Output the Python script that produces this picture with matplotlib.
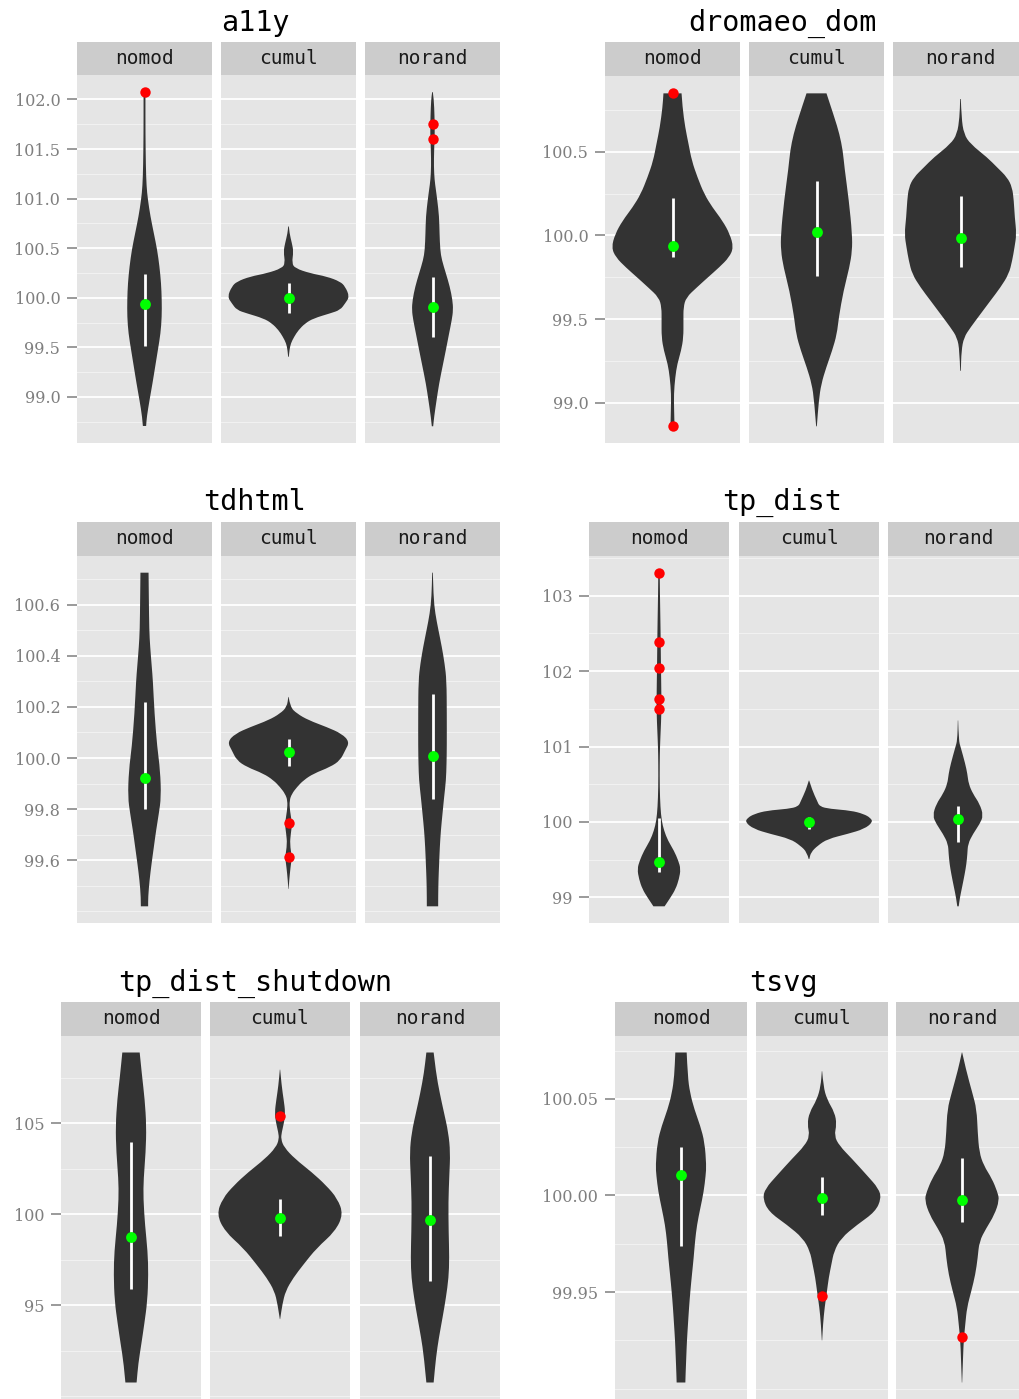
import matplotlib
matplotlib.use('Agg')
from matplotlib import pyplot as plt
from matplotlib.path import Path
from matplotlib.patches import PathPatch
from matplotlib.ticker import MultipleLocator, FixedLocator, FormatStrFormatter

facets = ['nomod', 'cumul', 'norand']

# violin outlines: y values and half width (% of facet width)
a11y_nomod_y = [102.067, 102.0, 101.663, 101.326, 101.124, 100.989, 100.820, 100.652, 100.483, 100.315,
                100.146, 99.978, 99.809, 99.641, 99.472, 99.304, 99.135, 98.967, 98.798, 98.707]
a11y_nomod_w = [0.7, 0.7, 0.7, 1.0, 1.5, 2.5, 4.4, 6.9, 9.4, 11.1, 12.3, 12.8, 12.8, 11.9, 9.9, 7.9, 5.9, 3.7, 1.7, 1.2]
a11y_cumul_y = [100.719, 100.652, 100.551, 100.467, 100.349, 100.298, 100.247, 100.214, 100.163, 100.113, 100.011,
                99.944, 99.877, 99.843, 99.792, 99.742, 99.674, 99.607, 99.540, 99.472, 99.405]
a11y_cumul_w = [0.25, 0.7, 2.5, 3.7, 2.5, 4.9, 16, 28.4, 38.3, 42, 45.2, 42, 38.3, 30.9, 18.5, 12.3, 7.4, 4.2, 1.7, 0.7, 0.25]
a11y_norand_y = [102.074, 102.0, 101.831, 101.663, 101.494, 101.326, 101.191, 101.090, 100.989, 100.820, 100.652,
                 100.483, 100.382, 100.247, 100.113, 99.978, 99.877, 99.776, 99.641, 99.472, 99.304, 99.135,
                 98.967, 98.798, 98.704]
a11y_norand_w = [0.25, 1.0, 1.5, 1.7, 1.2, 1.0, 1.5, 2.5, 3.5, 4.9, 5.2, 5.7, 6.9, 9.9, 12.8, 14.8, 15.3, 14.3,
                 12.3, 9.9, 7.4, 4.9, 3.0, 1.2, 0.5]
a11y_ticks = [99.0, 99.5, 100.0, 100.5, 101.0, 101.5, 102.0]
a11y_iqr = [(99.513, 100.237), (99.850, 100.146), (99.600, 100.214)]
a11y_med = [99.934, 100.001, 99.907]
a11y_out = [[102.078], [], [101.754, 101.599]]

dromaeo_nomod_y = [100.849, 100.765, 100.645, 100.546, 100.446, 100.347, 100.247, 100.167, 100.088, 100.008,
                   99.928, 99.869, 99.809, 99.749, 99.689, 99.629, 99.570, 99.490, 99.390, 99.311, 99.231,
                   99.151, 99.052, 98.952, 98.859]
dromaeo_nomod_w = [6.7, 7.4, 9.4, 11.9, 14.3, 18.5, 23.5, 29.6, 37, 42.5, 45.2, 42, 34.6, 26.2, 18, 10.1, 8.1,
                   8.1, 8.1, 6.4, 3.5, 2.0, 1.0, 1.2, 1.5]
dromaeo_cumul_y = [100.849, 100.705, 100.606, 100.506, 100.406, 100.207, 100.008, 99.908, 99.809, 99.669,
                   99.510, 99.410, 99.311, 99.211, 99.112, 99.012, 98.859]
dromaeo_cumul_w = [7.4, 13.3, 17.0, 19.5, 20.7, 24.0, 26.4, 26.4, 24.4, 20.0, 16.5, 15.1, 11.6, 7.2, 3.5, 1.7, 0.25]
dromaeo_norand_y = [100.815, 100.705, 100.606, 100.546, 100.466, 100.406, 100.347, 100.287, 100.207, 100.108,
                    100.008, 99.928, 99.849, 99.769, 99.689, 99.610, 99.530, 99.450, 99.390, 99.311, 99.191]
dromaeo_norand_w = [0.25, 0.7, 2.5, 7.4, 19.8, 27.2, 34.6, 38.3, 39.5, 40.2, 41.5, 40, 38.3, 35.8, 29.6, 22.2,
                    14.8, 7.4, 2.5, 0.7, 0.25]
dromaeo_ticks = [99.0, 99.5, 100.0, 100.5]
dromaeo_iqr = [(99.873, 100.221), (99.757, 100.325), (99.809, 100.233)]
dromaeo_med = [99.934, 100.022, 99.982]
dromaeo_out = [[100.853, 98.859], [], []]

tdhtml_nomod_y = [100.725, 100.631, 100.500, 100.435, 100.356, 100.304, 100.174, 100.043, 99.952, 99.847,
                  99.782, 99.717, 99.651, 99.586, 99.521, 99.456, 99.420]
tdhtml_nomod_w = [3.0, 3.2, 3.5, 4.2, 5.4, 6.2, 7.4, 9.4, 11.6, 12.3, 10.6, 8.6, 6.9, 5.2, 3.7, 2.7, 2.7]
tdhtml_cumul_y = [100.239, 100.200, 100.174, 100.148, 100.121, 100.095, 100.063, 100.030, 99.991, 99.965,
                  99.939, 99.913, 99.886, 99.860, 99.834, 99.795, 99.743, 99.704, 99.664, 99.612, 99.573,
                  99.521, 99.488]
tdhtml_cumul_w = [0.12, 1.2, 6.2, 14.8, 28.4, 39.5, 45.2, 42, 38.3, 30.9, 18.5, 11.1, 6.2, 2.5, 0.7, 1.0, 2.7,
                  1.7, 1.0, 2.5, 1.5, 0.5, 0.12]
tdhtml_norand_y = [100.725, 100.631, 100.566, 100.500, 100.435, 100.369, 100.304, 100.174, 100.043, 99.978,
                   99.913, 99.847, 99.782, 99.717, 99.651, 99.586, 99.521, 99.456, 99.420]
tdhtml_norand_w = [0.25, 0.7, 2.0, 4.4, 6.9, 9.0, 10.4, 10.6, 10.6, 10.4, 10.0, 8.6, 7.4, 6.2, 5.4, 4.9, 4.4, 4.2, 4.2]
tdhtml_ticks = [99.6, 99.8, 100.0, 100.2, 100.4, 100.6]
tdhtml_iqr = [(99.800, 100.218), (99.969, 100.076), (99.841, 100.249)]
tdhtml_med = [99.922, 100.023, 100.007]
tdhtml_out = [[], [99.747, 99.612], []]

tpdist_nomod_y = [103.301, 102.982, 102.673, 102.407, 102.053, 101.699, 101.434, 101.212, 100.991, 100.770,
                  100.460, 100.195, 100.018, 99.885, 99.752, 99.619, 99.487, 99.376, 99.243, 99.111, 99.000, 98.881]
tpdist_nomod_w = [0.5, 0.7, 1.0, 1.2, 1.4, 1.7, 1.7, 1.2, 0.7, 0.5, 0.5, 1.0, 1.9, 3.6, 6.4, 10.7, 13.8, 15.5,
                  14.3, 11.9, 8.3, 4.0]
tpdist_cumul_y = [100.549, 100.416, 100.283, 100.204, 100.173, 100.150, 100.106, 100.053, 99.996, 99.907,
                  99.841, 99.774, 99.686, 99.597, 99.509]
tpdist_cumul_w = [0.12, 2.4, 5.7, 7.6, 15, 30, 39, 44, 45.5, 39.5, 27.6, 13.3, 6.2, 1.4, 0.24]
tpdist_norand_y = [101.345, 101.080, 100.991, 100.770, 100.637, 100.504, 100.372, 100.239, 100.084, 99.973,
                   99.841, 99.708, 99.575, 99.442, 99.310, 99.133, 99.000, 98.881]
tpdist_norand_w = [0.12, 0.5, 1.9, 5.2, 6.7, 7.6, 10.7, 15.5, 18.1, 15.5, 10.7, 7.1, 6.7, 6.0, 4.8, 2.9, 1.4, 0.5]
tpdist_ticks = [99, 100, 101, 102, 103]
tpdist_iqr = [(99.332, 100.053), (99.907, 100.062), (99.730, 100.217)]
tpdist_med = [99.465, 100.0, 100.040]
tpdist_out = [[103.305, 102.385, 102.044, 101.633, 101.496], [], []]

shut_nomod_y = [108.893, 107.586, 106.316, 104.864, 103.412, 101.960, 100.871, 99.419, 97.967, 96.697,
                95.245, 93.975, 92.886, 91.797, 90.762]
shut_nomod_w = [6.2, 7.9, 9.8, 11.0, 10.5, 9.0, 8.8, 10.0, 11.9, 12.4, 11.7, 9.5, 7.4, 5.2, 4.0]
shut_cumul_y = [107.949, 107.042, 106.316, 105.590, 105.045, 104.501, 104.138, 103.684, 103.049, 102.323,
                101.597, 100.871, 100.0, 99.056, 98.149, 97.241, 96.515, 95.789, 95.064, 94.247]
shut_cumul_w = [0.12, 1.2, 2.6, 3.8, 2.9, 1.2, 0.7, 2.9, 10.7, 22.6, 32.9, 41.0, 45.2, 39.3, 26.2, 16.7,
                9.5, 4.0, 1.7, 0.12]
shut_norand_y = [108.893, 107.768, 106.679, 105.590, 104.501, 103.412, 102.142, 100.690, 99.056, 97.604,
                 96.515, 95.426, 94.338, 93.249, 92.160, 90.762]
shut_norand_w = [2.6, 4.3, 6.9, 10.0, 13.1, 14.5, 13.8, 13.1, 13.3, 13.8, 13.3, 11.4, 9.0, 6.4, 4.3, 2.6]
shut_ticks = [95, 100, 105]
shut_iqr = [(95.917, 103.956), (98.784, 100.871), (96.334, 103.194)]
shut_med = [98.766, 99.819, 99.710]
shut_out = [[], [105.408], []]

tsvg_nomod_y = [100.0740, 100.0617, 100.0532, 100.0446, 100.0361, 100.0275, 100.0156, 100.0104, 100.0019,
                99.9933, 99.9848, 99.9762, 99.9677, 99.9591, 99.9506, 99.9421, 99.9335, 99.9250, 99.9164,
                99.9079, 99.9032]
tsvg_nomod_w = [4.3, 5.1, 6.8, 10.1, 14.6, 17.9, 19.2, 18.7, 17.2, 14.6, 12.1, 10.6, 9.6, 8.3, 7.1, 6.1, 5.3,
                4.5, 4.0, 3.5, 3.3]
tsvg_cumul_y = [100.0643, 100.0566, 100.0497, 100.0429, 100.0369, 100.0309, 100.0258, 100.0190, 100.0104,
                100.0036, 99.9985, 99.9916, 99.9848, 99.9779, 99.9711, 99.9643, 99.9574, 99.9506, 99.9421,
                99.9335, 99.9250]
tsvg_cumul_w = [0.13, 1.0, 3.8, 9.6, 11.1, 9.3, 13.1, 22.7, 34.1, 42.9, 44.9, 40.4, 26.5, 14.4, 9.1, 7.1, 5.1,
                3.8, 2.0, 0.8, 0.13]
tsvg_norand_y = [100.0740, 100.0651, 100.0532, 100.0446, 100.0326, 100.0224, 100.0156, 100.0087, 100.0019,
                 99.9976, 99.9899, 99.9831, 99.9762, 99.9677, 99.9591, 99.9506, 99.9421, 99.9335, 99.9250,
                 99.9164, 99.9032]
tsvg_norand_w = [0.13, 3.0, 7.8, 11.1, 11.9, 13.1, 16.4, 22.7, 26.8, 28.3, 24.5, 18.4, 13.1, 11.9, 10.1, 7.1,
                 3.8, 2.5, 1.3, 0.8, 0.13]
tsvg_ticks = [99.95, 100.00, 100.05]
tsvg_iqr = [(99.9737, 100.0250), (99.9899, 100.0096), (99.9865, 100.0193)]
tsvg_med = [100.0104, 99.9988, 99.9976]
tsvg_out = [[], [99.9482], [99.9267]]

W, H = 1019, 1399
fig = plt.figure(figsize=(W / 100, H / 100), dpi=100)

def rect(x0, y0, x1, y1):
    return [x0 / W, 1 - y1 / H, (x1 - x0) / W, (y1 - y0) / H]

def side(pts):
    # smooth outline: quadratic curves through the midpoints of the read points
    verts, codes = [pts[0]], [Path.LINETO]
    for k in range(1, len(pts) - 1):
        mid = ((pts[k][0] + pts[k + 1][0]) / 2, (pts[k][1] + pts[k + 1][1]) / 2)
        verts += [pts[k], mid]
        codes += [Path.CURVE3, Path.CURVE3]
    verts.append(pts[-1])
    codes.append(Path.LINETO)
    return verts, codes

def violin(ax, ys, ws):
    right = [(w / 100, y) for y, w in zip(ys, ws)]
    left = [(-w / 100, y) for y, w in zip(ys, ws)][::-1]
    v1, c1 = side(right)
    v2, c2 = side(left)
    verts = v1 + v2 + [right[0]]
    codes = [Path.MOVETO] + c1[1:] + c2 + [Path.CLOSEPOLY]
    ax.add_patch(PathPatch(Path(verts, codes), facecolor='#333333', lw=0, zorder=3))

def panel(title, tx, ty, cols, strip_top, top, bottom, ticks, fmt, shapes, iqr, med, out):
    lo = min(min(s[0]) for s in shapes)
    hi = max(max(s[0]) for s in shapes)
    for o in out:
        if o:
            lo = min(lo, min(o))
            hi = max(hi, max(o))
    pad = (hi - lo) * 0.05
    step = ticks[1] - ticks[0]
    fig.text(tx / W, 1 - ty / H, title, ha='center', va='center', fontsize=20.5,
             family='DejaVu Sans Mono', color='black')
    for i, (x0, x1) in enumerate(cols):
        # strip
        sax = fig.add_axes(rect(x0, strip_top, x1, top))
        sax.set_facecolor('#CCCCCC')
        sax.set_xticks([])
        sax.set_yticks([])
        for s in sax.spines.values():
            s.set_visible(False)
        sax.text(0.5, 0.5, facets[i], ha='center', va='center', fontsize=14,
                 family='DejaVu Sans Mono', color='#1A1A1A', transform=sax.transAxes)

        ax = fig.add_axes(rect(x0, top, x1, bottom))
        ax.set_facecolor('#E5E5E5')
        ys, ws = shapes[i]
        violin(ax, ys, ws)
        ax.plot([0, 0], list(iqr[i]), color='white', lw=2, solid_capstyle='butt', zorder=4)
        ax.plot([0], [med[i]], 'o', color='#00FF00', ms=7.8, mec='none', zorder=5)
        if out[i]:
            ax.plot([0] * len(out[i]), out[i], 'o', color='#FF0000', ms=7.5, mec='none', zorder=6)
        ax.set_xlim(-0.5, 0.5)
        ax.set_ylim(lo - pad, hi + pad)
        ax.yaxis.set_major_locator(FixedLocator(ticks))
        ax.yaxis.set_minor_locator(MultipleLocator(step / 2))
        ax.yaxis.set_major_formatter(FormatStrFormatter(fmt))
        ax.grid(which='major', axis='y', color='white', lw=1.3)
        ax.grid(which='minor', axis='y', color='#F2F2F2', lw=0.7)
        ax.set_axisbelow(True)
        ax.set_xticks([])
        for s in ax.spines.values():
            s.set_visible(False)
        ax.tick_params(axis='y', which='minor', length=0)
        if i == 0:
            ax.tick_params(axis='y', which='major', length=7, width=1.1, color='#7F7F7F',
                           labelcolor='#7F7F7F', labelsize=11.5, pad=5)
            for lab in ax.get_yticklabels():
                lab.set_family('DejaVu Serif')
        else:
            ax.tick_params(axis='y', which='major', length=0, labelleft=False)

panel('a11y', 255, 23, [(77, 212), (221, 356), (365, 500)], 42, 75, 443, a11y_ticks, '%.1f',
      [(a11y_nomod_y, a11y_nomod_w), (a11y_cumul_y, a11y_cumul_w), (a11y_norand_y, a11y_norand_w)],
      a11y_iqr, a11y_med, a11y_out)
panel('dromaeo_dom', 782, 23, [(605, 740), (749, 884), (893, 1028)], 42, 76, 443, dromaeo_ticks, '%.1f',
      [(dromaeo_nomod_y, dromaeo_nomod_w), (dromaeo_cumul_y, dromaeo_cumul_w),
       (dromaeo_norand_y, dromaeo_norand_w)],
      dromaeo_iqr, dromaeo_med, dromaeo_out)
panel('tdhtml', 255, 502, [(77, 212), (221, 356), (365, 500)], 522, 556, 923, tdhtml_ticks, '%.1f',
      [(tdhtml_nomod_y, tdhtml_nomod_w), (tdhtml_cumul_y, tdhtml_cumul_w), (tdhtml_norand_y, tdhtml_norand_w)],
      tdhtml_iqr, tdhtml_med, tdhtml_out)
panel('tp_dist', 782, 502, [(589, 729), (739, 879), (888, 1028)], 522, 556, 923, tpdist_ticks, '%.0f',
      [(tpdist_nomod_y, tpdist_nomod_w), (tpdist_cumul_y, tpdist_cumul_w), (tpdist_norand_y, tpdist_norand_w)],
      tpdist_iqr, tpdist_med, tpdist_out)
panel('tp_dist_shutdown', 255, 983, [(61, 201), (210, 350), (360, 500)], 1002, 1036, 1399, shut_ticks, '%.0f',
      [(shut_nomod_y, shut_nomod_w), (shut_cumul_y, shut_cumul_w), (shut_norand_y, shut_norand_w)],
      shut_iqr, shut_med, shut_out)
panel('tsvg', 783, 983, [(615, 747), (756, 888), (896, 1028)], 1002, 1036, 1399, tsvg_ticks, '%.2f',
      [(tsvg_nomod_y, tsvg_nomod_w), (tsvg_cumul_y, tsvg_cumul_w), (tsvg_norand_y, tsvg_norand_w)],
      tsvg_iqr, tsvg_med, tsvg_out)

fig.savefig('out.png', dpi=100)
